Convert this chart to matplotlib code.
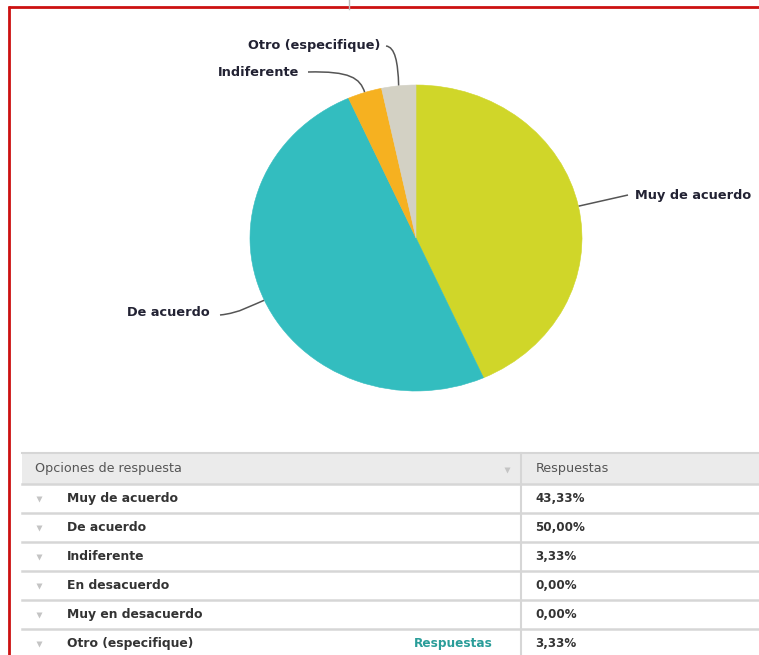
import numpy as np
import matplotlib.pyplot as plt
from matplotlib.patches import Rectangle, PathPatch
from matplotlib.path import Path

# Datos
opciones = ["Muy de acuerdo", "De acuerdo", "Indiferente", "En desacuerdo",
            "Muy en desacuerdo", "Otro (especifique)"]
porcentajes = [43.33, 50.00, 3.33, 0.00, 0.00, 3.33]
colores = ["#D0D629", "#33BDBF", "#F6B120", "#9A9A9A", "#777777", "#D3D1C4"]
texto_pct = ["43,33%", "50,00%", "3,33%", "0,00%", "0,00%", "3,33%"]

W, H = 759, 655
fig = plt.figure(figsize=(W / 100, H / 100), dpi=100)
fuente = "DejaVu Sans"

# capa en pixeles para tabla y marco
bg = fig.add_axes([0, 0, 1, 1])
bg.set_xlim(0, W)
bg.set_ylim(H, 0)
bg.axis("off")

# marco rojo
bg.plot([8, W], [6.5, 6.5], color="#CC1111", lw=2, solid_capstyle="butt")
bg.plot([8.5, 8.5], [6, H], color="#CC1111", lw=2, solid_capstyle="butt")
bg.plot([349, 349], [0, 9], color="#BBBBBB", lw=1)

# pie (ligeramente eliptico como en la imagen)
cx, cy, rx, ry = 416, 238, 166, 153
pax = fig.add_axes([(cx - 1.1 * rx) / W, (H - cy - 1.1 * ry) / H,
                    2.2 * rx / W, 2.2 * ry / H])
idx = [i for i, v in enumerate(porcentajes) if v > 0]
wedges, _ = pax.pie([porcentajes[i] for i in idx], colors=[colores[i] for i in idx],
                    startangle=90, counterclock=False, radius=1.0,
                    wedgeprops=dict(linewidth=0))
for w in wedges:
    w.set_edgecolor(w.get_facecolor())
    w.set_linewidth(0.4)
pax.set_xlim(-1.1, 1.1)
pax.set_ylim(-1.1, 1.1)
pax.set_aspect("auto")
pax.axis("off")

# etiquetas: posicion del texto (px), alineacion, inicio de linea, puntos de control
etiq = {
    "Muy de acuerdo": (635, 196, "left", (628, 195), None),
    "De acuerdo": (210, 313, "right", (220, 315), [(240, 313), (252, 305)]),
    "Indiferente": (299, 72, "right", (308, 72), [(350, 71), (360, 78)]),
    "Otro (especifique)": (380, 46, "right", (386, 46), [(395, 47), (398, 62)]),
}
for w, i in zip(wedges, idx):
    nombre = opciones[i]
    ang = np.deg2rad((w.theta1 + w.theta2) / 2)
    ex, ey = cx + rx * np.cos(ang), cy - ry * np.sin(ang)
    tx, ty, ha, p0, ctrl = etiq[nombre]
    bg.text(tx, ty, nombre, ha=ha, va="center", fontsize=9.3, fontweight="bold",
            family=fuente, color="#222233")
    if ctrl is None:
        path = Path([p0, (ex, ey)], [Path.MOVETO, Path.LINETO])
    else:
        path = Path([p0, ctrl[0], ctrl[1], (ex, ey)],
                    [Path.MOVETO, Path.CURVE4, Path.CURVE4, Path.CURVE4])
    bg.add_patch(PathPatch(path, facecolor="none", edgecolor="#555555", lw=1.1))

# tabla
x0, xdiv, top = 22, 521, 453
hh, rh = 31, 29
linea = "#D6D6D6"
bg.add_patch(Rectangle((x0, top), W - x0, hh, facecolor="#EBEBEB", edgecolor="none"))
bg.plot([x0, W], [top, top], color=linea, lw=1.5)
bg.text(35, top + hh / 2, "Opciones de respuesta", fontsize=9.2, color="#555555",
        va="center", family=fuente)
bg.text(536, top + hh / 2, "Respuestas", fontsize=9.2, color="#555555",
        va="center", family=fuente)
bg.plot([507], [top + hh / 2 + 1], marker="v", color="#C4C4C4", ms=5, mec="none")

y = top + hh
for k, nombre in enumerate(opciones):
    bg.plot([x0, W], [y, y], color=linea, lw=1.8)
    yc = y + rh / 2
    bg.plot([39], [yc], marker="v", color="#C4C4C4", ms=5, mec="none")
    bg.text(67, yc, nombre, fontsize=8.9, fontweight="bold", color="#333333",
            va="center", family=fuente)
    bg.text(535, yc, texto_pct[k], fontsize=8.6, fontweight="bold", color="#333333",
            va="center", family=fuente)
    if nombre.startswith("Otro"):
        bg.text(493, yc, "Respuestas", fontsize=8.7, fontweight="bold",
                color="#2A9D99", va="center", ha="right", family=fuente)
    y += rh
bg.plot([xdiv, xdiv], [top, H], color=linea, lw=1.5)

fig.savefig("out.png", dpi=100)
